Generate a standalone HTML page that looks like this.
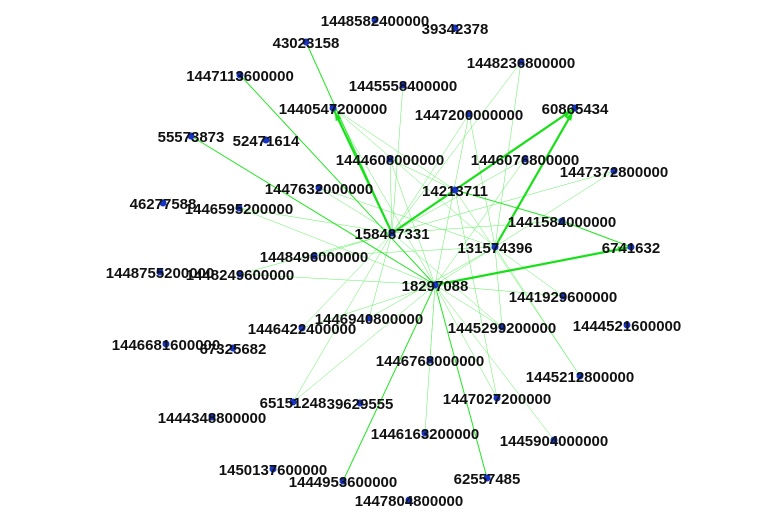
<!DOCTYPE html>
<html><head><meta charset="utf-8"><style>
html,body{margin:0;padding:0;background:#fff;}
svg{display:block;}
text{font-family:"Liberation Sans",Arial,sans-serif;font-weight:bold;font-size:15px;fill:#111;}
</style></head><body>
<svg id="chart" width="778" height="515" viewBox="0 0 778 515">
<g id="edges"></g>
<g id="nodes"></g>
</svg>
<script>
const nodeIds = ["1448582400000","39342378","43023158","1448236800000","1447113600000","1445558400000","1440547200000","1447200000000","60865434","55573873","52471614","1444608000000","1446076800000","1447372800000","14213711","1447632000000","46277588","1446595200000","1441584000000","158487331","131574396","6741632","1448496000000","1448755200000","1448249600000","18297088","1441929600000","1446940800000","1445299200000","1444521600000","1446422400000","1446681600000","67325682","1446768000000","1445212800000","65151248","39629555","1447027200000","1444348800000","1446163200000","1445904000000","1450137600000","1444953600000","62557485","1447804800000"];
const nodeX = [375,455,306,521,240,403,333,469,575,191,266,390,525,614,455,319,163,239,562,392,495,631,314,160,240,435,563,369,502,627,302,166,233,430,580,293,360,497,212,425,554,273,343,487,409];
const nodeY = [20,28,42,62,75,85,108,114,108,136,140,159,159,171,190,188,203,208,221,233,247,247,256,272,274,285,296,318,327,325,328,344,348,360,376,402,403,398,417,433,440,469,481,478,500];
const thickEdges = [["158487331","60865434"],["158487331","1440547200000"],["131574396","60865434"],["18297088","6741632"]];
const mediumEdges = [["158487331","43023158"],["14213711","1441584000000"],["1441584000000","6741632"],["18297088","62557485"],["18297088","1444953600000"],["55573873","18297088"],["1447113600000","18297088"]];
const thinEdges = [
["158487331","1447632000000"],["158487331","1446595200000"],["158487331","1448496000000"],["158487331","1448249600000"],["158487331","1444608000000"],["158487331","1447200000000"],["158487331","1446076800000"],["158487331","1441584000000"],["158487331","1445558400000"],["158487331","1448236800000"],["158487331","1446940800000"],["158487331","1446422400000"],["158487331","65151248"],["158487331","1445299200000"],["158487331","1447372800000"],
["18297088","1440547200000"],["18297088","1444608000000"],["18297088","1447200000000"],["18297088","1446076800000"],["18297088","1441929600000"],["18297088","1445299200000"],["18297088","1446768000000"],["18297088","1446163200000"],["18297088","1447027200000"],["18297088","1445904000000"],["18297088","1446422400000"],["18297088","65151248"],["18297088","1446595200000"],["18297088","1448249600000"],["18297088","1447372800000"],
["131574396","1440547200000"],["131574396","1441929600000"],["131574396","1445212800000"],["131574396","1445299200000"],["131574396","1447200000000"],["131574396","1448236800000"],["131574396","1446940800000"],["131574396","1447632000000"],["131574396","1448496000000"],
["14213711","1440547200000"],["14213711","1445212800000"],["14213711","1447027200000"],["14213711","1444608000000"]];
const NS="http://www.w3.org/2000/svg";
function px(id){return nodeX[nodeIds.indexOf(id)];}
function py(id){return nodeY[nodeIds.indexOf(id)];}
const eg=document.getElementById('edges');
function drawEdges(list,w,color,arrow,as){
  list.forEach(e=>{
    const x1=px(e[0]),y1=py(e[0]),x2=px(e[1]),y2=py(e[1]);
    const l=document.createElementNS(NS,'line');
    l.setAttribute('x1',x1);l.setAttribute('y1',y1);l.setAttribute('x2',x2);l.setAttribute('y2',y2);
    l.setAttribute('stroke',color);l.setAttribute('stroke-width',w);
    
    
    eg.appendChild(l);
    if(arrow){
      const dx=x2-x1,dy=y2-y1,d=Math.hypot(dx,dy),ux=dx/d,uy=dy/d;
      const tx=x2-ux*4,ty=y2-uy*4,bx=tx-ux*as,by=ty-uy*as;
      const p=document.createElementNS(NS,'polygon');
      p.setAttribute('points',tx+','+ty+' '+(bx-uy*as*0.35)+','+(by+ux*as*0.35)+' '+(bx+uy*as*0.35)+','+(by-ux*as*0.35));
      p.setAttribute('fill',color);
      
      
      eg.appendChild(p);
    }
  });
}
drawEdges(thinEdges,0.5,'#5ef05e',false,0);
drawEdges(mediumEdges,1,'#22e622',false,0);
drawEdges(thickEdges,2.2,'#18e018',true,9);
const ng=document.getElementById('nodes');
nodeIds.forEach((id,i)=>{
  const c=document.createElementNS(NS,'circle');
  c.setAttribute('cx',nodeX[i]);c.setAttribute('cy',nodeY[i]);c.setAttribute('r',3.5);
  c.setAttribute('fill','#1634c8');
  
  
  ng.appendChild(c);
});
nodeIds.forEach((id,i)=>{
  const t=document.createElementNS(NS,'text');
  t.setAttribute('x',nodeX[i]);t.setAttribute('y',nodeY[i]+6);
  t.setAttribute('text-anchor','middle');
  t.textContent=id;
  
  
  ng.appendChild(t);
});
</script>
</body></html>
